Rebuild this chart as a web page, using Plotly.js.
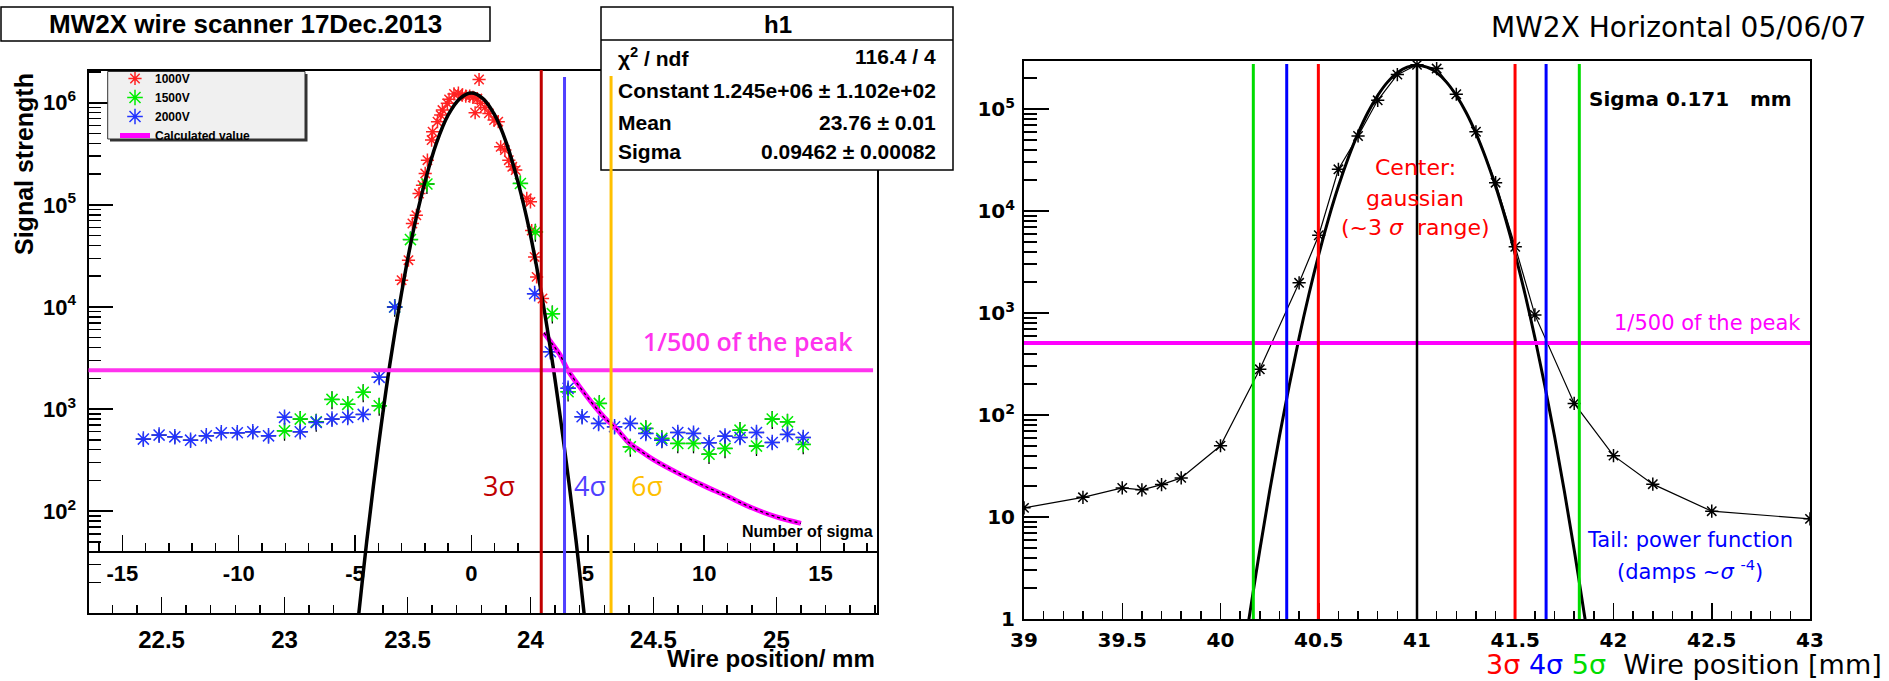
<!DOCTYPE html>
<html>
<head>
<meta charset="utf-8">
<script src="https://cdn.plot.ly/plotly-3.0.1.min.js"></script>
<style>html,body{margin:0;padding:0;background:#fff;}#chart{width:1889px;height:681px;}</style>
</head>
<body>
<div id="chart"></div>
<script>
// ---------------- LEFT PANEL DATA (MW2X wire scanner 17Dec.2013) ----------------
const v1000X = [23.476,23.504,23.520,23.536,23.547,23.561,23.572,23.581,23.598,23.602,23.622,23.635,23.642,23.662,23.669,23.689,23.707,23.723,23.737,23.753,23.766,23.775,23.784,23.791,23.798,23.815,23.831,23.852,23.869,23.879,23.896,23.912,23.926,23.940,23.985,24.000,24.005,24.017,24.025,24.049];
const v1000Y = [18300,28700,65700,79000,129000,156000,203000,274000,431000,520000,652000,757000,848000,987000,1080000,1220000,1240000,1190000,1160000,1160000,1130000,798000,1100000,1690000,987000,901000,787000,676000,652000,371000,344000,274000,236000,219000,116000,107000,56000,30900,19700,12100];

const v1500X = [23.000,23.064,23.129,23.193,23.257,23.320,23.385,23.448,23.512,23.579,23.959,24.020,24.089,24.153,24.280,24.406,24.469,24.534,24.599,24.663,24.726,24.791,24.852,24.919,24.983,25.045,25.109];
const v1500Y = [612,798,750,1244,1112,1459,1077,10000,45700,160000,162000,54300,8600,1480,1137,427,647,516,461,461,362,412,622,434,798,750,451];

const v2000X = [22.426,22.490,22.554,22.618,22.682,22.743,22.808,22.871,22.935,23.000,23.064,23.129,23.193,23.257,23.320,23.385,23.448,24.017,24.081,24.153,24.210,24.277,24.342,24.406,24.469,24.534,24.599,24.663,24.726,24.791,24.852,24.919,24.983,25.045,25.109];
const v2000Y = [508,556,535,496,547,586,586,599,547,830,599,741,798,830,887,2046,10000,13500,3648,1597,841,724,671,724,578,496,590,578,468,543,527,590,471,565,527];

// calculated tail ("Calculated value")
const calcX = [24.055,24.09,24.12,24.15,24.20,24.25,24.30,24.35,24.40,24.45,24.50,24.60,24.70,24.80,24.90,25.00,25.10];
const calcY = [5600,4300,3400,2450,1650,1150,830,640,470,385,320,236,180,140,108,88,76];

// gaussian fit curve
const fitLX = [23.287,23.310,23.334,23.381,23.428,23.476,23.523,23.571,23.618,23.665,23.713,23.760,23.807,23.855,23.902,23.949,23.997,24.044,24.091,24.138,24.186,24.210,24.233];
const fitLY = [4.6,15,50,418,2720,13800,54700,168000,404000,755000,1099000,1245000,1099000,755000,404000,168000,54700,13800,2720,418,50,15,4.6];

const fitMean = 23.76, fitSigma = 0.09462;
const sigmaLines = [3, 4, 6];
const sigmaLineColors = ['#c00000', '#5040ff', '#ffc000'];
const sigmaLineTops = [70, 77, 76];
const leftLevel = 2400;  // 1/500 of the peak

const leftTicks = [22.5, 23, 23.5, 24, 24.5, 25];
const sigmaTicks = [-15, -10, -5, 0, 5, 10, 15];

const statLabels = ['χ<sup>2</sup> / ndf', 'Constant', 'Mean', 'Sigma'];
const statValues = ['116.4 / 4', '1.245e+06 ± 1.102e+02', '23.76 ± 0.01', '0.09462 ± 0.00082'];

// ---------------- RIGHT PANEL DATA (MW2X Horizontal 05/06/07) ----------------
const rX = [39.0,39.3,39.5,39.6,39.7,39.8,40.0,40.2,40.4,40.5,40.6,40.7,40.8,40.9,41.0,41.1,41.2,41.3,41.4,41.5,41.6,41.8,42.0,42.2,42.5,43.0];
const rY = [12.3,15.6,19.3,18.5,20.8,24.2,50,281,1980,5800,25700,54500,122000,218000,272000,250000,140000,60000,19000,4470,960,130,40,21,11.4,9.6];
const fitRX = [40.12,40.15,40.20,40.25,40.30,40.35,40.40,40.45,40.50,40.55,40.60,40.65,40.70,40.75,40.80,40.85,40.90,40.95,41.00,41.05,41.10,41.15,41.20,41.25,41.30,41.35,41.40,41.45,41.50,41.55,41.60,41.65,41.70,41.75,41.80,41.85,41.88];
const fitRY = [0.5,1.16,4.76,17.9,62,196,573,1530,3750,8450,17500,33200,57900,92700,136000,184000,228000,258000,270000,258000,228000,184000,136000,92700,57900,33200,17500,8450,3750,1530,573,196,62,17.9,4.76,1.16,0.5];
const rLines = [40.167,40.337,40.498,41.0,41.499,41.657,41.826];
const rLineColors = ['#00dd00','#0000ff','#ff0000','#000000','#ff0000','#0000ff','#00dd00'];
const rLineWidths = [3,3,3,2.5,3,3,3];
const rightLevel = 510;
const rightTicks = [39, 39.5, 40, 40.5, 41, 41.5, 42, 42.5, 43];

// ---------------- helpers ----------------
const W = 1889, H = 681;
const px = x => x / W;
const py = y => 1 - y / H;
const LS = 'Liberation Sans, Arial, sans-serif';
const DJ = 'DejaVu Sans, sans-serif';
const OS = 'Open Sans, sans-serif';
const B = v => '<b>' + v + '</b>';

function logMinor(lo, hi) {
  const v = [];
  for (let e = lo; e < hi; e++) for (let d = 2; d <= 9; d++) v.push(d * Math.pow(10, e));
  return v;
}
const sup = e => e === 0 ? '<b>1</b>' : (e === 1 ? '<b>10</b>' : '<b>10<sup>' + e + '</sup></b>');

const xRangeL = [22.203, 25.409];

const errX = {type: 'constant', value: 0.03, color: '#000', thickness: 1.3, width: 0};

const traces = [
  {x: v1000X, y: v1000Y, xaxis: 'x', yaxis: 'y', type: 'scatter', mode: 'markers', name: '1000V',
   marker: {symbol: 'asterisk-open', size: 11, color: '#ff2222', line: {color: '#ff2222', width: 1.5}}},
  {x: v1500X, y: v1500Y, xaxis: 'x', yaxis: 'y', type: 'scatter', mode: 'markers', name: '1500V',
   error_x: errX, error_y: {type: 'percent', value: 20, color: '#000', thickness: 1.3, width: 0},
   marker: {symbol: 'asterisk-open', size: 13, color: '#00ee00', line: {color: '#00ee00', width: 1.5}}},
  {x: v2000X, y: v2000Y, xaxis: 'x', yaxis: 'y', type: 'scatter', mode: 'markers', name: '2000V',
   error_x: errX, error_y: {type: 'percent', value: 14, color: '#000', thickness: 1.3, width: 0},
   marker: {symbol: 'asterisk-open', size: 13, color: '#2233ff', line: {color: '#2233ff', width: 1.5}}},
  {x: calcX, y: calcY, xaxis: 'x', yaxis: 'y', type: 'scatter', mode: 'lines', name: 'Calculated value',
   line: {color: '#ff00ff', width: 5, shape: 'spline'}},
  {x: calcX, y: calcY, xaxis: 'x', yaxis: 'y', type: 'scatter', mode: 'lines', showlegend: false,
   line: {color: '#000', width: 1.3, dash: 'dot', shape: 'spline'}},
  {x: fitLX, y: fitLY, xaxis: 'x', yaxis: 'y', type: 'scatter', mode: 'lines', showlegend: false,
   line: {color: '#000', width: 3.5, shape: 'spline'}},
  // invisible anchor so the "number of sigma" axis is drawn
  {x: sigmaLines, y: sigmaLines.map(() => leftLevel), xaxis: 'x2', yaxis: 'y', type: 'scatter', mode: 'markers',
   showlegend: false, hoverinfo: 'skip', marker: {opacity: 0, size: 1}},
  // right panel
  {x: rX, y: rY, xaxis: 'x3', yaxis: 'y3', type: 'scatter', mode: 'lines+markers', showlegend: false,
   line: {color: '#000', width: 1.2},
   marker: {symbol: 'asterisk-open', size: 11, color: '#000', line: {color: '#000', width: 1.5}}},
  {x: fitRX, y: fitRY, xaxis: 'x3', yaxis: 'y3', type: 'scatter', mode: 'lines', showlegend: false,
   line: {color: '#000', width: 3, shape: 'spline'}}
];

const shapes = [];
// left title box
shapes.push({type: 'rect', xref: 'paper', yref: 'paper', x0: px(1), x1: px(490), y0: py(41), y1: py(7),
  line: {color: '#000', width: 1.5}, fillcolor: '#fff', layer: 'above'});
// legend box with shadow
shapes.push({type: 'rect', xref: 'paper', yref: 'paper', x0: px(110), x1: px(307.5), y0: py(141.5), y1: py(74),
  line: {width: 0}, fillcolor: '#333', layer: 'above'});
shapes.push({type: 'rect', xref: 'paper', yref: 'paper', x0: px(107.7), x1: px(305), y0: py(139), y1: py(71.5),
  line: {color: '#333', width: 1}, fillcolor: '#f0f0f0', layer: 'above'});
// 1/500 level line (left)
shapes.push({type: 'line', xref: 'x domain', yref: 'y', x0: 0, x1: 0.995, y0: leftLevel, y1: leftLevel,
  line: {color: '#ff33ee', width: 4}, layer: 'above'});
// stats box
shapes.push({type: 'rect', xref: 'paper', yref: 'paper', x0: px(601), x1: px(953), y0: py(170), y1: py(7),
  line: {color: '#000', width: 1.5}, fillcolor: '#fff', layer: 'above'});
shapes.push({type: 'line', xref: 'paper', yref: 'paper', x0: px(601), x1: px(953), y0: py(40), y1: py(40),
  line: {color: '#000', width: 1.5}, layer: 'above'});
// sigma lines (left)
sigmaLines.forEach((n, i) => {
  const xv = fitMean + n * fitSigma;
  shapes.push({type: 'line', xref: 'x', yref: 'paper', x0: xv, x1: xv, y0: py(613), y1: py(sigmaLineTops[i]),
    line: {color: sigmaLineColors[i], width: 3}, layer: 'above'});
});
// right level line
shapes.push({type: 'line', xref: 'x3 domain', yref: 'y3', x0: 0, x1: 1, y0: rightLevel, y1: rightLevel,
  line: {color: '#ff00ff', width: 4}, layer: 'above'});
// right sigma lines
rLines.forEach((xv, i) => {
  shapes.push({type: 'line', xref: 'x3', yref: 'paper', x0: xv, x1: xv, y0: py(619), y1: py(64),
    line: {color: rLineColors[i], width: rLineWidths[i]}, layer: 'above'});
});

const ann = [];
function A(text, x, y, opts) {
  ann.push(Object.assign({text: text, xref: 'paper', yref: 'paper', x: px(x), y: py(y), showarrow: false,
    xanchor: 'center', yanchor: 'middle'}, opts || {}));
}
A('MW2X wire scanner 17Dec.2013', 245, 24, {font: {family: LS, size: 26, color: '#000', weight: 700}});
A('h1', 778, 24, {font: {family: LS, size: 24, color: '#000', weight: 700}});
const statRows = [57, 90, 122, 152];
statLabels.forEach((t, i) => {
  A(t, 616, statRows[i], {xanchor: 'left', font: {family: LS, size: 21, color: '#000', weight: 700}});
  A(statValues[i], 938, statRows[i], {xanchor: 'right', font: {family: LS, size: 21, color: '#000', weight: 700}});
});
A('1/500 of the peak', 748, 341, {font: {family: OS, size: 25, color: '#ff33ee', weight: 600}});
const sigLabelX = [499, 590, 647];
sigmaLines.forEach((n, i) => {
  A(n + 'σ', sigLabelX[i], 485, {font: {family: OS, size: 27, color: sigmaLineColors[i]}});
});
A('Number of sigma', 875, 531, {xanchor: 'right', font: {family: LS, size: 16, color: '#000', weight: 700}});
A('Wire position/ mm', 877, 658, {xanchor: 'right', font: {family: LS, size: 24, color: '#000', weight: 700}});
A('Signal strength', 24, 164, {textangle: -90, font: {family: LS, size: 25, color: '#000', weight: 700}});

// right panel texts
A('MW2X Horizontal 05/06/07', 1868, 28, {xanchor: 'right', font: {family: DJ, size: 28, color: '#000'}});
A('Sigma 0.171   mm', 1587, 99, {xanchor: 'left', font: {family: DJ, size: 20, color: '#000', weight: 700}});
A('1/500 of the peak', 1707, 323, {font: {family: DJ, size: 21, color: '#ff00ff'}});
A('Center:', 1415, 167, {font: {family: DJ, size: 22, color: '#ff0000'}});
A('gaussian', 1415, 198, {font: {family: DJ, size: 22, color: '#ff0000'}});
A('(~3 <i>σ</i>  range)', 1415, 228, {font: {family: DJ, size: 22, color: '#ff0000'}});
A('Tail: power function', 1690, 540, {font: {family: DJ, size: 21, color: '#0000ff'}});
A('(damps ~<i>σ</i> <sup>-4</sup>)', 1690, 570, {font: {family: DJ, size: 21, color: '#0000ff'}});
A('<span style="color:#ff0000">3σ</span> <span style="color:#0000ff">4σ</span> <span style="color:#00dd00">5σ</span>  Wire position [mm]',
  1884, 664, {xanchor: 'right', font: {family: DJ, size: 27, color: '#000'}});

const axLine = {showline: true, linecolor: '#000', linewidth: 2, mirror: true, showgrid: false, zeroline: false};

const layout = {
  width: W, height: H,
  margin: {l: 0, r: 0, t: 0, b: 0, pad: 0},
  paper_bgcolor: '#fff', plot_bgcolor: '#fff',
  showlegend: true,
  legend: {x: px(115), y: py(64), xanchor: 'left', yanchor: 'top', bgcolor: 'rgba(0,0,0,0)', borderwidth: 0,
    font: {family: LS, size: 12, color: '#000', weight: 700}, tracegroupgap: 0, itemwidth: 30},
  xaxis: Object.assign({}, axLine, {
    domain: [px(88.5), px(877)], anchor: 'y', range: xRangeL,
    tickmode: 'array', tickvals: leftTicks, ticktext: leftTicks.map(B),
    ticks: 'inside', ticklen: 16, tickwidth: 1.5, tickcolor: '#000',
    minor: {tickmode: 'linear', tick0: 22.5, dtick: 0.1, ticks: 'inside', ticklen: 8, tickwidth: 1.5, tickcolor: '#000'},
    tickfont: {family: LS, size: 24, color: '#000', weight: 700}, ticklabelstandoff: 4
  }),
  xaxis2: {
    overlaying: 'x', anchor: 'free', position: py(551.7), side: 'bottom',
    range: xRangeL.map(v => (v - fitMean) / fitSigma),
    showline: true, linecolor: '#000', linewidth: 2, showgrid: false, zeroline: false,
    tickmode: 'array', tickvals: sigmaTicks, ticktext: sigmaTicks.map(B),
    ticks: 'inside', ticklen: 16, tickwidth: 1.5, tickcolor: '#000',
    minor: {tickmode: 'linear', tick0: 0, dtick: 1, ticks: 'inside', ticklen: 8, tickwidth: 1.5, tickcolor: '#000'},
    tickfont: {family: LS, size: 22, color: '#000', weight: 700}, ticklabelstandoff: 2
  },
  yaxis: Object.assign({}, axLine, {
    domain: [py(613.3), py(71)], anchor: 'x', type: 'log', range: [1.0, 6.311],
    tickmode: 'array', tickvals: [1e2, 1e3, 1e4, 1e5, 1e6], ticktext: [2, 3, 4, 5, 6].map(sup),
    ticks: 'inside', ticklen: 24, tickwidth: 2, tickcolor: '#000',
    minor: {tickmode: 'array', tickvals: logMinor(1, 7), ticks: 'inside', ticklen: 12, tickwidth: 1.5, tickcolor: '#000'},
    tickfont: {family: LS, size: 22, color: '#000', weight: 700}, ticklabelstandoff: 6
  }),
  xaxis3: Object.assign({}, axLine, {
    domain: [px(1024), px(1810)], anchor: 'y3', range: [39, 43],
    tickmode: 'array', tickvals: rightTicks, ticktext: rightTicks.map(B),
    ticks: 'inside', ticklen: 16, tickwidth: 1.5, tickcolor: '#000',
    minor: {tickmode: 'linear', tick0: 39, dtick: 0.1, ticks: 'inside', ticklen: 8, tickwidth: 1.5, tickcolor: '#000'},
    tickfont: {family: DJ, size: 20, color: '#000', weight: 700}, ticklabelstandoff: 2
  }),
  yaxis3: Object.assign({}, axLine, {
    domain: [py(619), py(60.7)], anchor: 'x3', type: 'log', range: [0, 5.475],
    tickmode: 'array', tickvals: [1, 10, 1e2, 1e3, 1e4, 1e5], ticktext: [0, 1, 2, 3, 4, 5].map(sup),
    ticks: 'inside', ticklen: 25, tickwidth: 2, tickcolor: '#000',
    minor: {tickmode: 'array', tickvals: logMinor(0, 6), ticks: 'inside', ticklen: 13, tickwidth: 2, tickcolor: '#000'},
    tickfont: {family: DJ, size: 20, color: '#000', weight: 700}, ticklabelstandoff: 3
  }),
  shapes: shapes,
  annotations: ann
};

Plotly.newPlot('chart', traces, layout, {staticPlot: true, displayModeBar: false});
</script>
</body>
</html>
